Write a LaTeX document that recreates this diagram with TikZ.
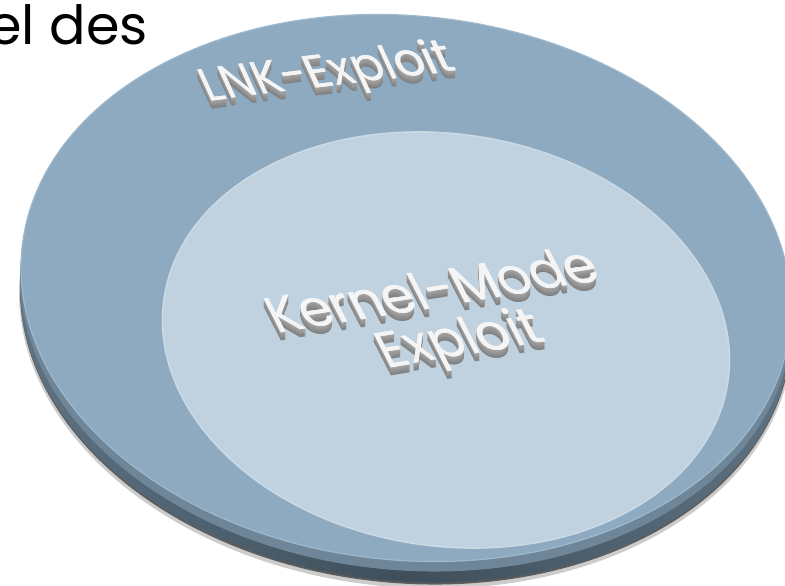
\documentclass[tikz,border=0pt]{standalone}
\usepackage{fontspec}
\setmainfont{Poppins}
\usepackage{tikz}
\usetikzlibrary{calc}
\definecolor{facecol}{RGB}{142,170,193}
\definecolor{hubcol}{RGB}{192,210,223}
\definecolor{rimcol}{RGB}{62,78,90}
\definecolor{rimlight}{RGB}{96,116,132}
\definecolor{bevelcol}{RGB}{110,134,152}
\definecolor{edgecol}{RGB}{158,184,204}
\definecolor{hubedge}{RGB}{204,218,229}
\tikzset{
  wordart/.style={anchor=base, inner sep=0pt, rotate=#1, xslant=-0.32, yscale=1.3},
  lnkfont/.style={font=\fontsize{36}{40}\selectfont, xscale=1.28},
  kernfont/.style={font=\fontsize{40}{46}\selectfont, xscale=1.28}
}

\begin{document}
\begin{tikzpicture}[x=1pt,y=-1pt]
  \useasboundingbox (0,0) rectangle (785,586);
  \fill[white] (0,0) rectangle (785,586);
  \coordinate (disc) at (406,288);
  \coordinate (rim) at (406,308);
  \coordinate (hub) at (446,340);

  % shadow, rim and bevel of the disc
  \fill[black, opacity=0.2, rotate around={-6:(406,313)}] (406,313) ellipse [x radius=388, y radius=274];
  \fill[black, opacity=0.55, rotate around={-6:(406,310)}] (406,310) ellipse [x radius=387, y radius=273];
  \shade[left color=rimlight, right color=rimlight, middle color=rimcol, rotate around={-6:(rim)}] (rim) ellipse [x radius=387, y radius=273];
  \fill[bevelcol, rotate around={-6:(406,297)}] (406,297) ellipse [x radius=387, y radius=273];

  % top faces
  \fill[facecol, draw=edgecol, line width=1.2pt, rotate around={-6:(disc)}] (disc) ellipse [x radius=386, y radius=272];
  \fill[hubcol, draw=hubedge, line width=1.5pt, rotate around={-8.5:(hub)}] (hub) ellipse [x radius=285, y radius=206];

  \node[font=\fontsize{54}{60}\selectfont, anchor=base east, inner sep=0pt] (title) at (148,45) {el des};

  % extruded lettering
  \foreach \d [evaluate=\d as \g using int(34+2*\d)] in {8,7,...,1}
    \node[wordart=7, lnkfont, text=black!\g] (lnk-\d) at (333,{86+\d}) {LNK-Exploit};
  \foreach \s in {0,0.6}
    \node[wordart=7, lnkfont, text=black!4] (lnk) at (333+\s,86) {LNK-Exploit};

  \foreach \d [evaluate=\d as \g using int(34+2*\d)] in {8,7,...,1}
  {
    \node[wordart=9.4, kernfont, text=black!\g] (kernel-\d) at (440,{307+\d}) {Kernel-Mode};
    \node[wordart=9.4, kernfont, text=black!\g] (exploit-\d) at (467,{355+\d}) {Exploit};
  }
  \foreach \s in {0,0.6}
  {
    \node[wordart=9.4, kernfont, text=black!4] (kernel) at (440+\s,307) {Kernel-Mode};
    \node[wordart=9.4, kernfont, text=black!4] (exploit) at (467+\s,355) {Exploit};
  }
\end{tikzpicture}
\end{document}
